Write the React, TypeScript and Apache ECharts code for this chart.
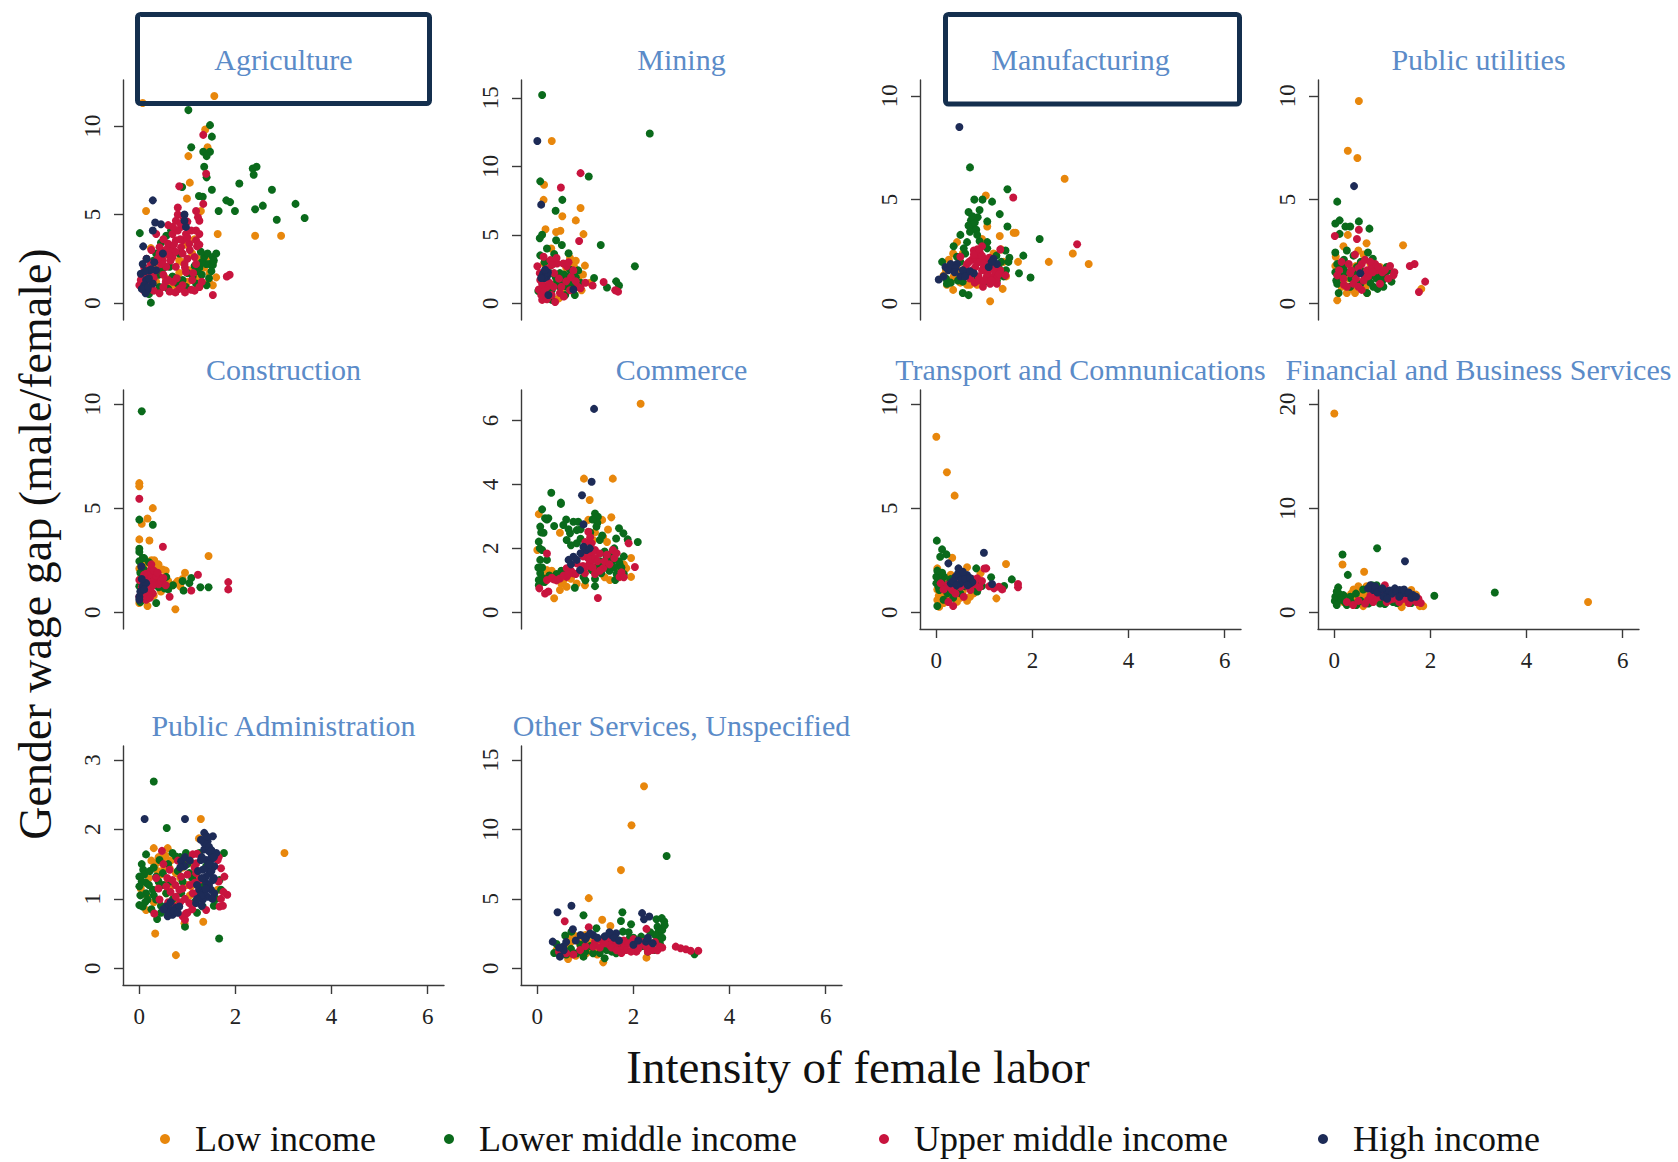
import React, { useEffect, useRef } from "react";
import * as echarts from "echarts";

// ---------- categories / ticks ----------
const incomeGroups = ["Low income", "Lower middle income", "Upper middle income", "High income"];
const sectors = [
  "Agriculture", "Mining", "Manufacturing", "Public utilities",
  "Construction", "Commerce", "Transport and Comnunications", "Financial and Business Services",
  "Public Administration", "Other Services, Unspecified",
];
const xTicks = [0, 2, 4, 6];
const yTicksBySector = [
  [0, 5, 10], [0, 5, 10, 15], [0, 5, 10], [0, 5, 10],
  [0, 5, 10], [0, 2, 4, 6], [0, 5, 10], [0, 10, 20],
  [0, 1, 2, 3], [0, 5, 10, 15],
];
const yRangeBySector = [
  [-0.96, 12.6], [-1.22, 16.3], [-0.8, 10.76], [-0.8, 10.76],
  [-0.8, 10.67], [-0.52, 6.95], [-0.8, 10.67], [-1.6, 21.35],
  [-0.24, 3.2], [-1.2, 16.0],
];
const xRange = [-0.34, 6.34];
const highlighted = ["Agriculture", "Manufacturing"];

// ---------- data: [female labor intensity, wage gap] ----------
const agriLow = [[1.56,11.7],[1.37,9.8],[1.42,8.8],[1.02,8.3],[1.05,6.8],[0.99,5.9],[1.28,5.2],[0.14,5.2],[1.63,3.9],[2.41,3.8],[2.95,3.8],[0.07,11.3],[0.49,2.6],[0.83,2.4],[1.22,2.5],[1.53,2.3],[1.6,1.45],[1.53,1.0],[0.35,1.2],[0.33,2.1],[0.24,3.1],[0.97,3.3],[1.46,1.7],[1.25,0.9],[0.63,0.9],[1.04,1.85],[0.83,1.7],[1.1,2.8],[0.69,1.1],[0.35,1.7],[0.55,1.4],[0.75,1.0],[1.0,1.2],[1.2,1.5],[1.35,2.0],[1.45,1.2],[0.9,2.3],[0.6,2.9],[1.15,3.6],[1.4,2.5]];
const agriLowerMid = [[1.02,10.9],[1.47,10.05],[1.51,9.4],[1.08,8.8],[1.33,8.55],[1.47,8.55],[1.4,8.3],[1.35,7.7],[1.4,7.1],[2.36,7.6],[2.44,7.7],[2.38,7.25],[2.08,6.75],[2.76,6.4],[1.51,6.4],[1.24,6.05],[1.32,6.0],[1.81,5.8],[1.89,5.7],[1.65,5.2],[1.99,5.2],[2.41,5.3],[2.57,5.5],[3.25,5.6],[2.86,4.7],[3.44,4.8],[0.89,6.55],[0.01,3.95],[0.24,0.02],[0.56,3.8],[0.66,4.1],[0.35,2.8],[0.49,1.95],[0.69,1.5],[0.9,1.3],[1.11,1.5],[1.25,2.0],[1.35,2.6],[1.42,2.8],[1.46,2.2],[1.39,2.2],[1.28,2.9],[1.53,2.6],[1.53,2.15],[0.17,0.75],[0.42,0.9],[0.07,1.65],[0.97,0.9],[1.18,1.1],[0.83,2.8],[0.63,2.05],[1.2,1.8],[1.3,1.6],[1.45,1.4],[1.4,1.0],[1.5,1.8],[1.55,2.4],[1.6,2.8],[1.3,2.3],[1.15,2.1],[1.0,1.7],[0.8,1.1],[0.6,0.8],[0.4,1.6],[0.3,2.4],[0.25,1.0],[0.45,3.4],[0.2,0.5]];
const agriUpperMid = [[1.33,9.5],[1.39,7.3],[0.83,6.6],[1.33,5.6],[1.18,5.2],[0.8,5.4],[1.88,1.6],[1.82,1.5],[1.53,0.45],[0.8,5.0],[0.76,4.65],[0.87,4.3],[0.97,3.9],[1.08,4.1],[1.18,4.1],[1.25,3.9],[1.18,3.55],[1.04,3.35],[0.9,3.55],[0.76,3.55],[0.63,3.15],[0.56,2.8],[0.42,2.8],[0.35,3.9],[0.42,3.15],[0.69,2.6],[0.9,2.8],[0.94,2.2],[0.76,2.05],[0.56,2.05],[0.35,1.85],[0.14,1.65],[0.03,1.3],[0.0,1.0],[0.07,0.9],[0.14,1.5],[0.21,1.1],[0.42,0.55],[0.63,0.65],[0.83,0.8],[1.08,0.75],[1.25,0.9],[0.97,1.75],[1.18,2.2],[0.69,3.9],[0.8,4.1],[0.66,3.05],[0.87,3.15],[0.6,3.35],[0.49,2.4],[0.24,2.2],[1.25,4.65],[1.22,4.85],[0.3,1.4],[0.5,1.6],[0.7,1.2],[0.9,1.0],[1.0,2.5],[0.5,3.6],[0.2,0.8],[0.1,2.0],[0.6,1.3],[1.1,1.3],[0.15,2.5],[0.25,3.0],[0.45,2.2],[0.55,1.2],[0.65,2.4],[0.75,2.9],[0.85,3.6],[0.95,2.0],[1.05,3.0],[1.15,2.6],[1.2,3.2],[1.0,4.6],[0.9,4.9],[0.85,4.5],[0.7,4.3],[0.6,4.4],[0.55,3.0],[0.38,2.5],[0.28,1.6],[0.18,1.2],[0.05,1.5],[0.1,0.7],[0.3,0.7],[0.5,0.9],[0.75,0.6],[0.95,0.6],[1.15,0.7],[1.3,1.2],[1.12,1.7],[0.78,1.4],[1.0,3.7],[0.62,2.7],[0.72,3.3],[1.25,3.3]];
const agriHigh = [[0.28,5.8],[0.33,4.55],[0.45,4.45],[0.08,3.2],[0.28,4.1],[0.94,5.0],[0.94,4.65],[0.97,4.3],[0.07,2.2],[0.14,1.3],[0.17,0.75],[0.13,0.55],[0.21,1.85],[0.35,1.85],[0.31,2.3],[0.49,2.8],[0.03,1.65],[0.28,1.1],[0.1,1.0],[0.05,0.8],[0.2,1.4],[0.25,1.9],[0.15,2.5],[0.18,0.9],[0.12,1.8]];

const miningLow = [[0.3,11.85],[0.14,8.65],[0.13,7.55],[0.9,6.95],[0.52,6.35],[0.8,6.05],[0.17,5.4],[0.39,5.2],[0.48,5.3],[0.96,5.05],[0.29,4.0],[0.68,3.3],[0.8,3.1],[0.99,2.75],[0.76,2.7],[1.1,1.5],[0.92,0.95],[0.44,0.35],[0.16,0.75],[0.14,2.9],[0.76,2.2],[0.6,2.6],[0.7,3.1],[0.85,1.8],[0.95,2.1],[0.22,2.3],[0.5,0.9],[0.35,1.3]];
const miningLowerMid = [[0.1,15.2],[2.34,12.4],[0.06,8.9],[1.07,9.25],[0.52,7.55],[0.38,6.75],[1.32,4.25],[2.03,2.7],[0.05,4.75],[0.1,5.0],[0.06,3.5],[0.39,4.6],[0.51,4.25],[0.65,3.65],[1.18,1.85],[1.45,1.15],[1.64,1.6],[1.7,1.3],[0.2,4.0],[0.34,2.9],[0.47,2.2],[0.41,1.6],[0.54,1.45],[0.61,1.95],[0.75,1.35],[0.78,0.6],[0.58,0.6],[0.3,0.25],[0.68,2.45],[0.3,0.95],[0.13,0.75],[0.47,1.2],[0.27,2.2],[0.61,1.2],[0.45,2.0],[0.5,1.9],[0.55,2.1],[0.6,1.7],[0.65,1.5],[0.7,1.7],[0.5,1.6],[0.45,1.4],[0.38,1.9],[0.25,1.4],[0.15,3.0],[0.35,3.6],[0.8,1.9],[0.9,1.5],[0.72,1.0],[0.2,0.5],[0.02,0.9],[0.85,2.4]];
const miningUpperMid = [[0.9,9.5],[0.49,8.45],[0.87,4.55],[1.38,1.55],[1.62,0.95],[1.68,0.85],[1.15,1.3],[0.0,2.7],[0.06,1.7],[0.03,1.0],[0.1,0.25],[0.2,1.2],[0.27,3.15],[0.41,2.9],[0.34,1.2],[0.47,0.75],[0.61,2.7],[0.54,2.9],[0.68,0.95],[0.85,1.2],[0.37,0.1],[0.13,3.4],[0.05,2.2],[0.1,1.4],[0.15,1.8],[0.2,2.5],[0.25,1.5],[0.3,0.6],[0.35,2.2],[0.45,1.8],[0.5,1.2],[0.55,0.5],[0.6,1.6],[0.7,1.9],[0.75,2.4],[0.65,3.0],[0.4,3.3],[0.3,2.8],[0.08,0.6],[0.2,0.3],[0.15,0.9],[0.8,1.6],[0.9,1.1],[1.0,1.5]];
const miningHigh = [[0.0,11.85],[0.08,7.2],[0.13,2.05],[0.16,2.3],[0.1,1.95],[0.2,1.95],[0.23,0.6],[0.75,1.0],[0.12,2.15],[0.18,2.15],[0.14,1.85],[0.22,2.25],[0.16,2.45],[0.08,1.85]];

const manufLow = [[1.03,5.2],[2.67,6.0],[1.06,3.7],[1.65,3.4],[1.61,3.4],[1.32,3.25],[0.95,3.1],[2.34,2.0],[2.84,2.4],[3.17,1.9],[1.7,2.0],[1.38,0.7],[1.12,0.1],[0.35,0.65],[0.15,1.35],[0.43,2.95],[0.26,2.1],[0.47,1.6],[0.64,0.9],[0.85,0.9],[1.19,2.4],[1.4,2.0],[0.36,1.3],[0.2,1.6],[0.3,1.1],[0.5,1.0],[0.7,0.9],[0.55,2.4],[0.35,2.4],[0.22,0.9],[1.45,1.3],[1.35,2.6]];
const manufLowerMid = [[0.7,6.55],[1.48,5.5],[0.79,5.0],[0.96,5.0],[1.16,4.9],[1.32,4.3],[0.67,4.4],[0.86,4.15],[1.06,3.95],[0.72,4.0],[0.78,3.6],[0.83,3.55],[0.67,3.75],[0.5,3.3],[1.48,3.7],[2.15,3.1],[1.81,2.3],[1.52,2.2],[1.72,1.45],[1.96,1.25],[0.55,0.5],[0.67,0.4],[0.12,2.0],[0.22,0.95],[0.36,2.75],[0.57,2.65],[1.06,2.95],[1.06,2.65],[1.44,2.55],[1.33,1.45],[1.4,1.3],[1.26,1.1],[0.64,2.95],[0.43,2.25],[1.02,1.05],[0.85,1.2],[0.2,1.2],[0.3,1.0],[0.35,1.8],[0.5,2.0],[0.45,1.1],[0.6,2.4],[0.55,1.05],[1.2,1.25],[1.3,1.7],[1.35,2.0],[1.45,1.6],[1.5,2.0],[1.25,2.3],[0.9,3.0],[0.85,3.3],[0.8,3.9],[0.75,4.2],[0.9,4.5],[0.7,3.45]];
const manufUpperMid = [[1.6,5.1],[2.93,2.85],[1.33,2.6],[0.97,0.8],[0.78,2.55],[0.85,2.4],[0.74,2.1],[0.92,2.25],[0.64,1.9],[0.81,1.75],[0.99,1.75],[0.71,1.35],[0.88,1.3],[1.06,1.45],[1.19,1.3],[1.12,0.95],[1.26,0.95],[1.33,1.6],[1.44,1.35],[1.02,2.1],[0.5,2.25],[0.95,2.75],[0.8,2.2],[0.85,1.95],[0.9,2.0],[0.95,1.6],[1.0,1.9],[1.05,1.3],[1.1,1.7],[1.15,1.9],[1.2,1.6],[1.25,1.2],[1.3,1.4],[0.75,1.6],[0.7,1.2],[0.8,1.0],[0.9,1.1],[1.0,1.1],[1.15,1.1],[0.85,2.6],[0.9,2.5],[0.78,2.35],[0.95,2.3],[1.1,2.2],[0.6,1.7],[0.68,2.0]];
const manufHigh = [[0.48,8.5],[0.05,1.15],[0.19,1.75],[0.33,1.75],[0.43,1.9],[0.64,1.5],[0.78,1.45],[0.5,1.3],[1.19,2.15],[1.26,1.9],[1.09,1.75],[0.25,1.6],[0.3,1.9],[0.4,1.7],[0.55,1.6],[0.6,1.3],[0.7,1.55],[0.15,1.3],[0.38,1.5],[1.15,2.0]];

const utilLow = [[0.51,9.75],[0.28,7.35],[0.48,7.0],[1.43,2.8],[0.28,3.3],[0.19,2.75],[0.67,2.9],[0.5,2.55],[0.61,2.35],[0.03,2.25],[0.06,0.15],[0.95,1.75],[1.81,0.7],[0.12,1.05],[0.26,0.5],[0.43,0.5],[0.68,0.5],[0.19,1.7],[0.4,1.45],[0.09,1.9],[0.05,1.5],[0.1,1.2],[0.15,0.8],[0.3,1.2],[0.35,0.7],[0.55,1.0],[0.65,0.8],[0.02,1.8],[0.45,1.8],[0.75,1.9]];
const utilLowerMid = [[0.06,4.9],[0.02,3.85],[0.11,4.0],[0.23,3.7],[0.33,3.7],[0.51,3.95],[0.73,3.6],[0.11,3.35],[0.02,2.45],[0.26,2.55],[0.7,2.45],[0.8,2.15],[0.06,1.9],[0.19,1.75],[0.06,0.95],[0.09,0.5],[0.33,0.8],[0.54,0.95],[0.68,0.5],[0.74,1.3],[0.88,1.2],[1.02,0.8],[1.09,1.75],[1.19,1.05],[0.81,0.8],[0.47,1.75],[0.15,1.3],[0.25,1.5],[0.35,1.2],[0.45,1.4],[0.55,1.6],[0.65,1.2],[0.75,1.0],[0.85,1.5],[0.95,1.3],[1.05,1.4],[1.15,1.6],[0.02,1.5],[0.04,1.1],[0.2,2.1],[0.4,2.3],[0.55,2.0],[1.0,1.1],[0.9,0.7]];
const utilUpperMid = [[0.01,3.25],[0.51,3.55],[0.47,3.1],[0.43,2.35],[1.57,1.8],[1.67,1.9],[1.89,1.05],[1.76,0.55],[1.16,1.8],[1.25,1.5],[1.23,1.35],[1.12,1.2],[0.06,1.35],[0.19,1.2],[0.33,1.45],[0.4,0.95],[0.57,1.9],[0.64,2.1],[0.68,1.6],[0.78,1.75],[0.88,1.6],[0.95,0.95],[0.61,1.1],[0.3,1.9],[0.57,0.65],[0.26,0.8],[0.1,1.6],[0.2,0.9],[0.35,1.6],[0.45,1.2],[0.5,1.7],[0.7,1.3],[0.8,1.5],[0.85,1.9],[0.92,1.75],[1.0,1.5],[1.05,1.6],[0.75,2.0],[0.6,1.4],[0.15,2.0],[0.5,0.8]];
const utilHigh = [[0.41,5.65],[0.54,1.45]];

const constLow = [[0,6.2],[0,6.05],[0.28,5.0],[0.17,4.5],[0.05,4.25],[0,3.5],[0.21,3.45],[0,2.1],[0.07,2.6],[0.31,2.5],[1.44,2.7],[0.95,1.9],[0.49,2.05],[0.69,1.3],[0.76,1.4],[0.75,0.15],[0.07,0.85],[0.17,0.3],[0,0.45],[0.35,2.05],[0.02,1.6],[0.05,2.0],[0.1,2.3],[0.15,0.6],[0.3,0.8],[0.4,2.3],[0.45,1.0],[0.55,2.0],[0.6,1.5],[0.85,1.25],[0.8,1.5],[0.9,1.6],[0.25,2.5]];
const constLowerMid = [[0.05,9.65],[0,4.45],[0.28,4.2],[0,3.05],[0,2.9],[0,2.45],[0.07,2.6],[0.17,1.7],[0.35,0.45],[0.56,1.7],[0.42,1.25],[0.52,1.15],[0.9,1.5],[0.92,1.05],[1.08,1.65],[1.04,1.4],[1.27,1.2],[1.44,1.2],[0.03,0.6],[0,1.25],[0.14,0.75],[0.02,1.9],[0.05,2.2],[0.08,1.5],[0.1,2.6],[0.12,2.0],[0.2,2.4],[0.25,1.9],[0.4,1.2],[0.6,1.1],[0.7,1.3],[0.02,0.5]];
const constUpperMid = [[0,5.45],[0.49,3.15],[1.22,1.8],[1.08,1.05],[1.85,1.45],[1.85,1.1],[0.63,0.75],[0.14,1.85],[0.24,2.05],[0.31,1.7],[0.21,1.45],[0.35,1.4],[0.17,1.25],[0.07,1.05],[0,1.55],[0.28,0.9],[0.42,1.7],[0.49,1.4],[0,0.75],[0.14,0.6],[0.1,1.3],[0.15,1.6],[0.2,1.8],[0.25,1.2],[0.3,1.5],[0.35,1.75],[0.4,1.35],[0.45,1.5],[0.25,2.3],[0.3,2.0],[0.18,1.0],[0.28,1.3],[0.38,1.9],[0.1,1.8],[0.05,1.2],[0.12,0.9],[0.22,0.7],[0.5,1.65],[0.55,1.3]];
const constHigh = [[0,0.75],[0,0.6],[0.07,1.25],[0.14,1.4],[0.02,1.0],[0.05,1.6],[0.1,1.1],[0.04,2.2]];

const commLow = [[2.15,6.52],[0.97,4.18],[1.57,4.18],[1.09,3.51],[1.54,2.97],[0.03,3.07],[0,1.95],[0.47,2.49],[1.06,2.89],[1.47,2.59],[1.16,2.26],[1.95,1.7],[1.95,1.11],[0.35,0.44],[0.47,0.7],[0.61,0.8],[0.2,1.32],[0.27,1.22],[0.82,0.9],[0.99,0.85],[1.37,2.36],[1.51,1.01],[1.64,1.38],[1.85,1.38],[1.35,2.89],[0.15,1.1],[0.3,1.3],[0.55,1.0],[0.7,1.05],[1.1,2.0],[1.2,2.5],[1.4,1.1],[1.7,1.1],[1.8,1.5],[1.45,2.2],[0.5,0.9]];
const commLowerMid = [[0.29,3.74],[0.49,3.39],[0.49,3.43],[0.1,3.22],[0.16,2.94],[0.23,2.94],[0.06,2.68],[0.13,2.49],[0.03,2.21],[0.1,1.95],[0.06,1.64],[0.2,1.64],[0.54,2.73],[0.75,2.83],[0.85,2.83],[0.68,2.47],[0.82,2.57],[0.61,2.26],[0.82,2.16],[1.2,3.09],[1.26,2.99],[1.23,2.68],[1.3,2.26],[1.7,2.63],[1.79,2.47],[1.64,2.31],[2.09,2.2],[1.88,2.28],[1.44,1.74],[1.57,1.64],[1.71,1.53],[1.51,1.43],[1.37,1.53],[1.33,1.22],[0.06,1.22],[0.03,1.01],[0.13,1.06],[0.78,0.77],[1.2,0.82],[1.13,1.32],[0.96,1.11],[1.62,1.01],[0.7,2.1],[0.9,2.3],[0.95,1.8],[1.4,1.4],[1.45,1.6],[1.5,1.3],[1.55,1.55],[1.6,1.4],[1.65,1.2],[1.7,1.6],[1.75,1.4],[1.8,1.2],[1.3,1.6],[1.25,1.45],[1.4,1.9],[1.5,1.8],[1.35,2.4],[1.25,2.8],[1.15,2.9],[1.1,2.5],[0.4,1.2],[0.5,1.3],[0.1,1.4],[0.15,0.95],[0.25,1.15],[0.05,2.0],[0.08,2.5],[0.2,2.9],[0.35,2.7],[0.6,2.9],[0.65,2.6],[1.0,1.0],[1.2,1.05],[0.9,2.6],[1.6,2.0],[1.8,1.75],[0.02,1.4],[0.03,0.85]];
const commUpperMid = [[1.26,0.45],[0.2,1.84],[1.9,2.16],[2.03,1.42],[0.16,0.59],[0.23,0.65],[0.04,0.75],[0.2,1.01],[0.34,1.03],[0.47,1.06],[0.61,1.11],[0.75,1.22],[0.89,1.32],[1.02,1.43],[1.09,1.53],[1.16,1.64],[1.13,2.16],[1.06,2.52],[1.2,1.95],[1.3,1.84],[1.57,1.95],[1.37,1.38],[1.71,1.11],[0.82,1.53],[0.99,1.22],[0.61,1.38],[0.3,1.08],[0.4,1.0],[0.55,1.15],[0.7,1.3],[0.8,1.2],[0.95,1.45],[1.05,1.7],[1.1,1.8],[1.15,1.9],[1.2,1.7],[1.25,1.6],[1.15,1.4],[1.2,1.2],[1.3,1.3],[1.4,1.6],[1.45,1.8],[1.5,1.5],[1.6,1.7],[1.65,1.85],[1.75,1.25],[1.8,1.1],[1.0,2.2],[1.1,2.35],[0.95,1.75],[0.65,1.2]];
const commHigh = [[1.18,6.36],[1.13,4.08],[0.93,3.66],[0.96,2.75],[0.82,1.64],[0.65,1.64],[1.02,1.95],[0.96,2.05],[1.09,2.0],[0.75,1.74],[0.89,1.32],[0.7,1.5],[0.9,1.85]];

const transLow = [[0,8.43],[0.22,6.72],[0.38,5.6],[0.33,2.62],[1.45,2.32],[1.25,0.67],[0.02,2.11],[0.06,0.27],[0.02,0.59],[0.12,0.75],[0.09,0.43],[0.23,0.59],[0.43,0.51],[0.64,0.56],[0.64,2.16],[0.78,0.91],[0.92,1.87],[0.16,1.23],[0.37,0.91],[0.05,0.8],[0.08,1.0],[0.1,0.6],[0.15,0.45],[0.2,0.8],[0.28,0.7],[0.3,1.1],[0.05,1.4],[0.18,1.5],[0.4,1.3],[0.5,0.7],[0.55,1.0],[0.7,0.75],[0.6,1.4],[0.1,1.8],[0.3,1.8],[0.02,1.1]];
const transLowerMid = [[0.01,3.44],[0.12,3.02],[0.21,2.78],[0.08,2.67],[0,1.71],[0,1.39],[0.06,1.07],[0.16,1.71],[0.26,1.39],[0.37,1.07],[0.5,0.91],[0.83,2.11],[0.95,1.26],[1.14,1.68],[1.41,1.26],[1.57,1.58],[0.23,0.91],[0.02,0.3],[0.05,1.2],[0.1,1.5],[0.12,1.9],[0.2,1.2],[0.3,1.6],[0.4,1.5],[0.45,1.2],[0.6,1.25],[0.7,1.5],[0.75,1.2],[0.85,1.0],[0.9,1.4],[0.02,2.0],[0.15,0.6],[0.35,0.7]];
const transUpperMid = [[1.04,2.11],[1.7,1.36],[1.7,1.2],[1.37,1.1],[1.3,1.23],[0.35,0.3],[0.23,1.31],[0.33,1.07],[0.5,1.23],[0.71,1.07],[0.85,1.63],[0.57,0.75],[0.09,1.39],[0.15,1.1],[0.28,1.2],[0.4,0.9],[0.45,1.5],[0.6,1.5],[0.65,1.25],[0.75,1.6],[0.8,1.35],[0.9,1.2],[0.95,1.5],[1.0,2.1],[1.1,1.25],[1.2,1.15],[0.25,0.5]];
const transHigh = [[0.25,2.35],[0.99,2.86],[0.46,2.11],[0.4,1.71],[0.57,1.71],[0.71,1.39],[0.5,1.39],[0.64,1.79],[1.16,1.36],[0.3,1.39],[0.35,1.5],[0.45,1.85],[0.52,1.55],[0.6,1.6],[0.7,1.65],[0.75,1.45],[0.55,1.95],[0.42,1.3],[0.65,1.3]];

const finLow = [[0,19.1],[0.17,4.6],[0.62,3.9],[5.28,1.0],[0.5,2.5],[0.67,2.5],[0.39,1.5],[0.53,1.2],[0.64,1.65],[0.6,0.6],[1.4,0.5],[1.6,2.15],[1.78,0.6],[1.85,0.6],[0.19,1.0],[1.22,1.5],[0.3,1.2],[0.35,1.8],[0.45,1.4],[0.55,2.0],[0.7,1.3],[0.75,1.0],[0.8,1.8],[0.4,2.2],[0.58,1.5],[1.0,1.2],[1.3,1.1],[1.5,1.0],[1.65,1.3],[1.7,1.7],[0.25,1.5],[0.12,1.3]];
const finLowerMid = [[0.17,5.55],[0.89,6.15],[0.28,3.6],[0.08,2.4],[2.08,1.6],[3.34,1.9],[0.01,1.1],[0.05,0.7],[0.19,1.65],[0.33,1.5],[0.26,0.7],[0.46,0.7],[0.71,0.85],[0.88,2.6],[0.78,2.6],[0.95,0.85],[1.22,1.0],[1.36,1.5],[0.02,1.5],[0.1,1.8],[0.15,1.2],[0.22,1.0],[0.35,1.0],[0.45,1.8],[0.55,1.1],[0.6,2.2],[0.8,2.0],[0.9,1.2],[1.05,0.8],[1.15,1.3],[1.3,0.9],[1.5,1.6],[1.6,0.9],[0.7,2.3],[0.05,2.0]];
const finUpperMid = [[1.05,2.6],[0.95,1.5],[1.09,1.0],[1.22,1.3],[1.4,1.5],[1.57,1.2],[1.71,1.0],[0.81,1.0],[0.64,0.85],[0.39,0.7],[0.26,1.0],[0.5,1.1],[0.7,1.2],[0.85,1.3],[0.9,1.8],[1.0,2.0],[1.1,1.7],[1.15,1.2],[1.3,1.7],[1.35,1.0],[1.45,1.3],[1.5,1.9],[1.6,1.5],[1.65,1.2],[1.75,1.3],[1.8,0.9],[1.25,2.0],[0.75,1.6],[1.55,0.9]];
const finHigh = [[1.47,4.9],[0.81,2.15],[0.95,2.15],[1.09,2.0],[1.26,2.3],[1.36,2.15],[1.5,1.85],[1.64,1.65],[1.02,1.5],[0.7,2.3],[0.75,2.6],[0.85,2.5],[0.9,1.9],[1.0,2.3],[1.15,2.1],[1.2,1.8],[1.3,2.0],[1.4,1.8],[1.45,2.2],[1.55,1.9],[1.6,1.4],[1.7,1.5],[1.1,1.3],[1.35,1.5]];

const pubLow = [[1.28,2.15],[3.02,1.66],[0.3,1.73],[0.59,1.73],[1.24,1.87],[0.35,1.51],[0.63,1.44],[0.76,1.37],[0.42,1.18],[0.03,1.15],[0.56,1.08],[0.14,0.84],[0.33,0.5],[0.76,0.19],[1.33,0.67],[0.94,0.65],[1.08,1.18],[1.63,1.13],[0.49,1.56],[1.11,1.51],[0.2,1.3],[0.25,1.55],[0.4,1.6],[0.45,1.35],[0.52,1.45],[0.6,1.25],[0.65,1.55],[0.7,1.2],[0.85,1.3],[0.9,1.45],[1.0,1.2],[1.05,1.05],[0.15,1.05],[0.3,0.95],[0.8,0.95],[1.2,1.3],[0.55,1.62],[0.38,1.4]];
const pubLowerMid = [[0.3,2.69],[0.57,2.02],[0.14,1.64],[1.76,1.66],[1.66,0.43],[0.95,0.6],[0.37,0.71],[0,1.32],[0,1.18],[0.08,1.42],[0.14,1.08],[0,0.91],[0.07,0.89],[0.17,0.99],[0.28,1.13],[0.35,1.32],[0.42,1.56],[0.49,1.37],[0.56,1.08],[0.59,0.82],[0.69,1.66],[0.76,1.61],[0.97,1.66],[1.04,1.37],[1.25,1.08],[1.32,0.89],[1.39,1.47],[1.25,1.66],[0.14,1.23],[0.35,0.99],[0.87,1.08],[1.7,1.13],[1.67,1.27],[0.02,1.05],[0.05,1.25],[0.1,1.35],[0.12,0.95],[0.2,1.2],[0.22,1.4],[0.25,0.85],[0.3,1.05],[0.4,1.25],[0.45,0.9],[0.5,1.2],[0.6,1.5],[0.65,1.25],[0.7,1.0],[0.8,1.4],[0.85,1.6],[0.9,1.25],[1.0,1.5],[1.1,1.3],[1.15,0.95],[1.3,1.2],[1.6,1.0],[1.55,0.9],[1.2,0.8],[0.45,0.8],[0.3,1.45],[0.05,1.5]];
const pubUpperMid = [[0.47,1.69],[1.11,1.64],[1.63,1.56],[1.7,1.44],[1.77,1.32],[1.83,1.06],[1.67,0.89],[1.74,0.9],[1.18,1.51],[1.18,1.37],[1.15,1.23],[1.11,1.08],[1.04,0.94],[0.97,0.79],[0.9,0.75],[0.83,1.13],[0.69,1.27],[0.63,1.42],[0.56,1.18],[0.42,0.99],[0.31,0.79],[0.76,1.03],[0.87,1.32],[1.04,1.56],[1.39,0.84],[1.25,1.27],[0.5,1.5],[0.58,1.3],[0.65,1.1],[0.7,0.9],[0.75,1.2],[0.8,1.55],[0.85,0.95],[0.9,1.15],[0.95,1.0],[1.0,1.35],[1.05,1.2],[1.1,0.85],[1.15,1.45],[1.2,1.65],[1.22,1.1],[0.95,0.7],[1.0,0.8],[0.6,0.95],[0.4,1.15],[0.35,1.3],[1.65,1.25],[1.7,1.0],[1.75,1.1],[1.65,1.6]];
const pubHigh = [[0.11,2.15],[0.95,2.15],[1.35,1.95],[1.53,1.9],[1.42,1.83],[1.35,1.71],[1.46,1.68],[1.28,1.56],[1.39,1.56],[1.49,1.56],[1.56,1.47],[1.32,1.42],[1.46,1.37],[1.53,1.27],[1.39,1.23],[1.49,1.13],[1.42,1.03],[1.32,0.99],[1.25,1.13],[1.18,0.94],[0.87,1.54],[0.94,1.47],[0.56,0.89],[0.66,0.84],[0.76,0.87],[0.69,0.77],[0.59,0.75],[0.83,0.89],[1.6,1.66],[1.56,1.08],[1.39,1.32],[1.35,1.8],[1.45,1.75],[1.5,1.6],[1.4,1.45],[1.3,1.3],[1.45,1.2],[1.35,1.1],[1.5,1.4],[1.28,1.05],[1.55,1.3],[0.6,0.8],[0.65,0.95],[0.72,0.82],[0.8,0.8],[0.5,0.85],[1.2,1.2],[1.22,1.4],[1.3,1.6],[1.28,1.85],[1.4,1.9],[1.5,1.7],[1.45,1.5],[1.38,1.15],[1.52,1.0],[1.3,0.9],[1.2,1.0],[1.55,1.6],[0.85,1.45],[0.95,1.6],[1.05,1.55]];

const otherLow = [[2.22,13.1],[1.96,10.3],[1.74,7.07],[1.07,5.05],[1.35,3.5],[1.52,3.05],[0.4,1.32],[0.64,0.67],[1.37,0.43],[2.27,0.77],[0.82,2.28],[0.96,2.04],[1.09,1.56],[1.23,2.04],[1.02,1.08],[1.3,1.32],[0.89,1.68],[0.61,1.32],[0.75,1.08],[0.5,1.0],[0.6,1.6],[0.7,1.9],[0.75,2.4],[0.85,2.0],[0.9,1.2],[0.95,1.5],[1.0,2.4],[1.1,1.9],[1.15,1.3],[1.2,1.6],[1.25,1.0],[1.3,1.8],[0.55,1.2],[0.8,0.9],[0.65,2.2],[0.45,1.4]];
const otherLowerMid = [[0.96,3.82],[1.77,4.04],[1.74,3.41],[1.95,3.17],[2.69,8.08],[2.48,3.53],[2.59,3.61],[2.64,3.37],[2.5,3.0],[2.52,2.64],[2.6,2.76],[2.55,2.28],[2.55,1.8],[2.43,1.32],[3.27,1.01],[0.58,2.36],[0.4,1.75],[0.71,2.64],[1.23,2.88],[1.78,2.64],[1.92,2.16],[2.16,2.28],[1.44,1.32],[1.64,1.08],[1.16,1.08],[0.96,0.84],[0.82,1.08],[1.4,0.72],[1.71,1.56],[0.5,1.3],[0.6,1.0],[0.7,1.4],[0.9,1.7],[1.0,1.2],[1.1,1.6],[1.3,1.1],[1.45,1.7],[1.5,2.0],[1.55,1.2],[1.6,2.3],[1.7,2.0],[1.75,1.2],[1.85,1.8],[1.9,2.6],[2.0,2.2],[2.05,1.4],[2.2,1.6],[2.3,2.0],[2.35,2.6],[2.45,2.4],[2.5,1.9],[2.6,2.2],[2.65,3.1],[2.3,1.2],[0.35,1.1],[1.35,1.5]];
const otherUpperMid = [[0.57,3.39],[1.07,2.96],[2.27,2.84],[2.88,1.56],[2.98,1.44],[3.09,1.37],[3.19,1.27],[3.35,1.27],[0.6,1.08],[1.57,2.04],[1.64,1.8],[1.5,1.68],[1.81,1.56],[1.85,1.32],[1.99,1.56],[2.12,1.68],[2.26,1.56],[2.4,1.32],[2.54,1.56],[2.06,1.2],[1.71,1.32],[1.16,1.56],[0.89,1.32],[1.33,2.04],[1.2,1.9],[1.3,1.5],[1.4,1.8],[1.45,2.2],[1.55,1.5],[1.6,2.3],[1.65,1.3],[1.7,1.9],[1.75,1.1],[1.8,2.0],[1.9,1.8],[1.95,1.2],[2.0,2.1],[2.1,1.4],[2.2,1.9],[2.3,1.2],[2.35,1.7],[2.45,1.9],[2.5,1.3],[2.6,1.5],[1.5,2.5],[0.45,1.2],[0.75,1.0],[1.0,1.6]];
const otherHigh = [[0.42,4.04],[0.71,4.5],[0.32,1.92],[0.74,2.81],[2.18,3.97],[2.33,3.73],[2.22,3.53],[1.02,2.28],[1.16,2.4],[1.54,2.4],[1.64,2.52],[0.47,0.84],[0.54,1.56],[2.26,1.92],[2.4,1.8],[0.6,1.9],[0.8,2.0],[0.9,2.4],[1.0,2.1],[1.1,2.5],[1.25,2.2],[1.4,2.3],[1.5,2.6],[1.6,2.2],[1.7,2.0],[2.0,1.7],[2.1,2.0],[2.3,2.2],[0.55,1.3],[0.45,1.5]];

const dataBySector = [
  [agriLow, agriLowerMid, agriUpperMid, agriHigh],
  [miningLow, miningLowerMid, miningUpperMid, miningHigh],
  [manufLow, manufLowerMid, manufUpperMid, manufHigh],
  [utilLow, utilLowerMid, utilUpperMid, utilHigh],
  [constLow, constLowerMid, constUpperMid, constHigh],
  [commLow, commLowerMid, commUpperMid, commHigh],
  [transLow, transLowerMid, transUpperMid, transHigh],
  [finLow, finLowerMid, finUpperMid, finHigh],
  [pubLow, pubLowerMid, pubUpperMid, pubHigh],
  [otherLow, otherLowerMid, otherUpperMid, otherHigh],
];

// ---------- layout & style ----------
const W = 1678;
const H = 1162;
const FONT = "'Liberation Serif', 'DejaVu Serif', serif";
const groupColors = ["#e8870c", "#0a6a1b", "#c8143e", "#1d2b57"];
const titleColor = "#5b8bc8";
const axisColor = "#3a3a3a";
const boxColor = "#142f4e";
const colLeft = [123, 521, 920, 1318];
const rowTop = [80, 390, 746];
const rowHeight = [240, 239, 239];
const plotWidth = 321;
const panelCell = [[0,0],[0,1],[0,2],[0,3],[1,0],[1,1],[1,2],[1,3],[2,0],[2,1]];
const showXAxis = [false, false, false, false, false, false, true, true, true, true];
const titleOffset = 21;
const legendMarkerX = [160, 444, 879, 1318];

function buildOption() {
  const grid: any[] = [];
  const xAxis: any[] = [];
  const yAxis: any[] = [];
  const series: any[] = [];
  const graphic: any[] = [];

  sectors.forEach((name, p) => {
    const [r, c] = panelCell[p];
    const left = colLeft[c];
    const top = rowTop[r];
    grid.push({ left, top, width: plotWidth, height: rowHeight[r], containLabel: false });
    xAxis.push({
      type: "value",
      gridIndex: p,
      min: xRange[0],
      max: xRange[1],
      show: showXAxis[p],
      axisLine: { show: true, onZero: false, lineStyle: { color: axisColor, width: 1.4 } },
      axisTick: { show: true, length: 9, customValues: xTicks, lineStyle: { color: axisColor, width: 1.4 } },
      axisLabel: { customValues: xTicks, fontFamily: FONT, fontSize: 23, color: "#222", margin: 20 },
      splitLine: { show: false },
    });
    yAxis.push({
      type: "value",
      gridIndex: p,
      min: yRangeBySector[p][0],
      max: yRangeBySector[p][1],
      axisLine: { show: true, onZero: false, lineStyle: { color: axisColor, width: 1.4 } },
      axisTick: { show: true, length: 9, customValues: yTicksBySector[p], lineStyle: { color: axisColor, width: 1.4 } },
      axisLabel: { customValues: yTicksBySector[p], rotate: 90, fontFamily: FONT, fontSize: 23, color: "#222", margin: 19 },
      splitLine: { show: false },
    });
    dataBySector[p].forEach((pts, g) => {
      series.push({
        type: "scatter",
        name: incomeGroups[g],
        xAxisIndex: p,
        yAxisIndex: p,
        data: pts,
        symbol: "circle",
        symbolSize: 8,
        itemStyle: { color: groupColors[g], opacity: 1 },
        emphasis: { disabled: true },
        z: 2 + g,
      });
    });
    graphic.push({
      type: "text",
      x: left + plotWidth / 2,
      y: top - titleOffset,
      style: {
        text: name,
        align: "center",
        verticalAlign: "middle",
        fontFamily: FONT,
        fontSize: 30,
        fill: titleColor,
      },
      z: 50,
    });
  });

  // highlight boxes round two titles
  const boxes = [
    { x: 137.5, y: 14.5, width: 292, height: 89 },
    { x: 945.5, y: 14.5, width: 294, height: 89.5 },
  ];
  highlighted.forEach((_, i) => {
    graphic.push({
      type: "rect",
      shape: { ...boxes[i], r: 3 },
      style: { fill: "none", stroke: boxColor, lineWidth: 5 },
      z: 100,
    });
  });

  graphic.push({
    type: "text",
    x: 35,
    y: 544,
    rotation: Math.PI / 2,
    style: {
      text: "Gender wage gap (male/female)",
      align: "center",
      verticalAlign: "middle",
      fontFamily: FONT,
      fontSize: 46,
      fill: "#111",
    },
    z: 50,
  });
  graphic.push({
    type: "text",
    x: 858,
    y: 1067,
    style: {
      text: "Intensity of female labor",
      align: "center",
      verticalAlign: "middle",
      fontFamily: FONT,
      fontSize: 47,
      fill: "#111",
    },
    z: 50,
  });

  const legend = incomeGroups.map((g, i) => ({
    data: [{ name: g, icon: "circle" }],
    left: legendMarkerX[i] - 5,
    top: 1116,
    itemWidth: 10,
    itemHeight: 10,
    selectedMode: false,
    textStyle: { fontFamily: FONT, fontSize: 36, color: "#111", padding: [0, 0, 0, 20] },
  }));

  return {
    animation: false,
    backgroundColor: "#ffffff",
    textStyle: { fontFamily: FONT },
    grid,
    xAxis,
    yAxis,
    series,
    legend,
    graphic,
  };
}

export default function App() {
  const ref = useRef<HTMLDivElement | null>(null);
  useEffect(() => {
    if (!ref.current) return;
    const chart = echarts.init(ref.current, undefined, { renderer: "svg", width: W, height: H });
    chart.setOption(buildOption() as any);
    return () => {
      chart.dispose();
    };
  }, []);
  return (
    <div
      ref={ref}
      style={{ position: "absolute", left: 0, top: 0, width: W, height: H, background: "#fff" }}
    />
  );
}
